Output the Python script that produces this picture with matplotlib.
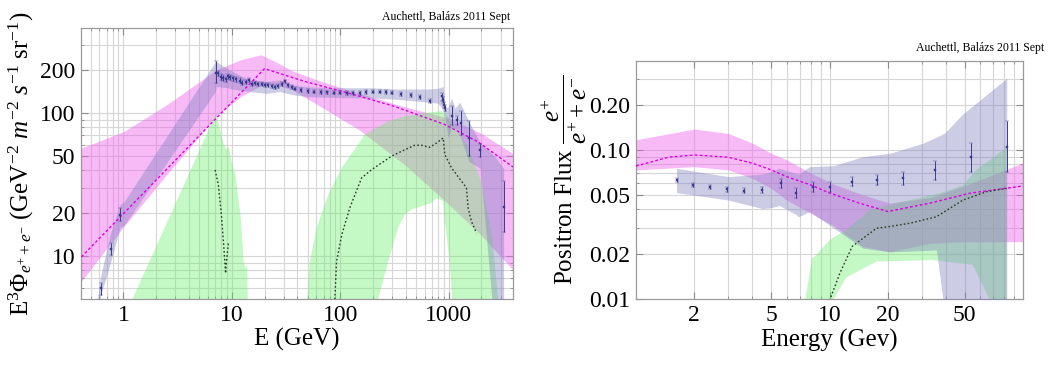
import numpy as np
import matplotlib
matplotlib.use("Agg")
import matplotlib.pyplot as plt
from matplotlib.ticker import FixedLocator, NullFormatter

plt.rcParams['font.family'] = ['Liberation Serif', 'DejaVu Serif']
plt.rcParams['mathtext.fontset'] = 'custom'
plt.rcParams['mathtext.rm'] = 'Liberation Serif'
plt.rcParams['mathtext.it'] = 'Liberation Serif:italic'
plt.rcParams['mathtext.bf'] = 'Liberation Serif:bold'

# ---------------- left panel : e+ + e- flux ----------------
pink_e = [0.41, 1.0, 2.5, 7.2, 12, 18.5, 25, 36, 67, 150, 400, 1000, 2000, 3900]
pink_hi = [57, 74, 114, 200, 235, 255, 229, 197, 166, 137, 110, 92, 72, 52]
pink_lo = [6.7, 16, 37, 95, 130, 155, 158, 145, 110, 76, 43, 23, 14, 8]

model_e = [0.41, 20, 47, 135, 318, 920, 1850, 3900]
model_f = [9.9, 204, 166, 134, 111, 83, 63, 42]

lav_e = [0.58, 0.62, 0.75, 0.93, 1.02, 7.08, 7.2, 9, 11, 14.8, 20.8, 27.6, 36.7,
         50, 100, 200, 318, 645, 797, 887, 905, 919, 986, 1059, 1140, 1262,
         1528, 1950, 2650, 3200]
lav_hi = [5.2, 7.4, 14, 22.9, 24.2, 229, 228, 205, 189, 170, 166, 170, 157,
          152, 150, 150, 147, 147, 149, 153, 125, 108, 110, 127, 108, 119,
          87.5, 62, 50, 41]
lav_lo = [4, 5.4, 8.7, 15.8, 16.5, 142, 153, 150, 145, 141, 137, 141, 134,
          130, 128, 127, 125, 119, 117, 105, 100, 95, 67, 80, 78, 70.6,
          46, 41, 3, 3]

g1_e = [0.88, 1.19, 7.08, 8.32, 8.95, 9.25, 9.93, 10.7, 11.9, 12.7, 13.2, 13.7, 14.0]
g1_hi = [3, 5, 100, 61, 55, 58.8, 44.6, 37, 19.5, 9.2, 8.3, 8.7, 3]

g2_out_e = [47, 52.4, 60.4, 77.3, 103, 168, 276, 393, 600, 850, 920, 1000, 1500, 2000, 2500, 3050]
g2_out_f = [3, 9.2, 15.8, 26.9, 41.4, 70.6, 87.5, 94.8, 100, 103, 100, 92, 58, 33, 14, 3]
g2_in_e = [215, 223, 276, 341, 393, 453, 692, 771, 887, 919, 1021, 1120]
g2_in_f = [3, 5, 9.2, 15.8, 19.5, 21.2, 23.5, 25.5, 24.2, 17.5, 9.2, 3]

dm1_e = [7.0, 7.5, 8.0, 8.4, 8.75, 8.95, 9.3]
dm1_f = [40, 31.6, 19.5, 12.0, 7.6, 9.5, 12.4]
dm2_e = [89, 92.2, 103, 122, 157, 194, 297, 393, 486, 560, 668, 771, 887,
         919, 1059, 1309, 1455, 1507, 1618, 1800]
dm2_f = [5, 9.2, 14.1, 21.7, 35.2, 40.2, 50, 55.4, 59.5, 59.5, 57.6, 61.8, 66.9,
         51.3, 41.4, 33.4, 30, 21.7, 17.5, 14.5]

data_e = [0.617, 0.767, 0.929, 7.08, 7.5, 7.9, 8.3, 8.75, 9.25, 9.7, 10.3, 11.0,
          11.9, 12.5, 13.4, 14.3, 15.4, 16.4, 17.5, 18.8, 20.1, 21.6, 23.2, 24.9,
          26.7, 28.7, 30.8, 33.0, 35.5, 38.1, 43.7, 50, 57.5, 66, 76, 87, 100,
          115, 132, 152, 174, 200, 230, 264, 300, 366, 446, 541, 668, 857, 875,
          894, 919, 1074, 1178, 1282, 1528, 1958, 3200]
data_f = [6.0, 11.3, 19.3, 190, 189, 179, 175, 172, 180, 177, 175, 172,
          168, 163, 165, 170, 159, 162, 160, 159, 158, 157, 155, 153,
          155, 160, 166, 158, 153, 148, 145, 143, 141, 140, 139.5, 139, 139,
          138, 138, 138, 140, 141, 141, 140, 139, 136, 134, 129, 122, 131, 124,
          114, 108, 96, 90, 85, 67, 55, 22]
data_lo = [5.4, 10.2, 17.5, 163, 181, 171, 167, 165, 172, 170, 168, 165,
           161, 157, 159, 164, 154, 157, 155, 154, 153, 152, 150, 148,
           150, 155, 161, 153, 148, 144, 141, 139, 137, 136, 136, 135, 135,
           134, 134, 134, 136, 137, 137, 136, 135, 132, 130, 125, 118, 121, 118,
           109, 103, 82, 83, 70.5, 50, 49, 14.8]
data_hi = [6.5, 12.3, 21.7, 229, 197, 187, 183, 179, 188, 184, 182, 179,
           175, 169, 171, 176, 164, 167, 165, 164, 163, 162, 160, 158,
           160, 165, 171, 163, 158, 152, 149, 147, 145, 144, 143, 143, 143,
           142, 142, 142, 144, 145, 145, 144, 143, 140, 138, 133, 126, 138, 130,
           119, 113, 111, 95, 103, 87.5, 61, 33.4]

# ---------------- right panel : positron fraction ----------------
rpink_e = [1.0, 2.0, 3.0, 4.0, 5.0, 6.0, 8.0, 10.5, 14.9, 20.5, 33, 49, 100]
rpink_hi = [0.117, 0.138, 0.129, 0.111, 0.095, 0.086, 0.070, 0.059, 0.050, 0.044, 0.048, 0.057, 0.082]
rpink_lo = [0.0735, 0.0773, 0.0735, 0.0646, 0.0553, 0.0462, 0.0377, 0.031, 0.0226, 0.0208, 0.0237, 0.0243, 0.0243]

rmodel_e = [1.0, 1.47, 2.0, 3.0, 4.0, 5.0, 6.0, 8.0, 10.0, 14.3, 20.0, 33, 53, 100]
rmodel_f = [0.078, 0.0894, 0.0926, 0.0894, 0.0815, 0.0735, 0.0663, 0.0583, 0.0515,
            0.044, 0.0387, 0.044, 0.0513, 0.0574]

rlav_e = [1.62, 3.0, 4.5, 5.0, 5.5, 6.7, 6.9, 7.9, 10.5, 14.9, 20.5, 30.4, 35.7, 39.4, 49, 65, 82.4]
rlav_hi = [0.0754, 0.0663, 0.069, 0.0715, 0.0754, 0.0698, 0.069, 0.0773, 0.0785, 0.0902,
           0.095, 0.111, 0.122, 0.130, 0.175, 0.235, 0.302]
rlav_lo = [0.0518, 0.0462, 0.0405, 0.041, 0.0425, 0.037, 0.0357, 0.0387, 0.030, 0.022,
           0.0208, 0.0212, 0.0214, 0.008, 0.008, 0.008, 0.008]

rg_up_e = [7.4, 8.13, 8.46, 10.0, 12.2, 16.1, 20.5, 37.2, 49, 57.5, 82.4]
rg_up_f = [0.009, 0.0188, 0.0195, 0.025, 0.0291, 0.0397, 0.043, 0.0513, 0.058, 0.0735, 0.104]
rg_lo_e = [7.4, 10.0, 12.2, 17.5, 34, 55, 70, 82.4]
rg_lo_f = [0.009, 0.009, 0.014, 0.0179, 0.0183, 0.017, 0.009, 0.009]

rdm_e = [10.0, 11.3, 13.1, 17.5, 20.4, 26, 35.7, 49, 65, 82.4]
rdm_f = [0.0098, 0.0149, 0.0226, 0.0299, 0.0307, 0.0323, 0.0357, 0.0462, 0.0526, 0.0553]

rdata_e = [1.62, 1.96, 2.41, 2.95, 3.63, 4.46, 5.62, 6.71, 8.2, 10.1, 13.1, 17.5, 24, 35, 53.6, 83]
rdata_f = [0.063, 0.0583, 0.0563, 0.0545, 0.0534, 0.054, 0.0598, 0.0518, 0.0568, 0.0568,
           0.0614, 0.063, 0.0646, 0.0735, 0.0902, 0.105]
rdata_lo = [0.061, 0.0565, 0.0545, 0.0525, 0.0512, 0.0515, 0.056, 0.0478, 0.0525, 0.0525,
            0.0573, 0.058, 0.0585, 0.063, 0.0716, 0.0716]
rdata_hi = [0.065, 0.060, 0.058, 0.0565, 0.0556, 0.0565, 0.0636, 0.0558, 0.061, 0.0612,
            0.0655, 0.068, 0.0715, 0.084, 0.112, 0.157]

PINK = '#ee66ee'
LAV = '#8080c0'
GREEN = '#66ee66'
MAG = '#e000e0'
DOT = '#2a3a2a'
PTS = '#3a3a90'
GRID = '#d6d6d6'


def style_axes(ax, xgrid, ygrid):
    for x in xgrid:
        ax.axvline(x, color=GRID, lw=0.8, zorder=0)
    for y in ygrid:
        ax.axhline(y, color=GRID, lw=0.8, zorder=0)
    for s in ax.spines.values():
        s.set_color('#9a9a9a')
        s.set_linewidth(0.9)
    ax.tick_params(which='both', direction='in', top=True, right=True,
                   labelsize=17, color='#8a8a8a', pad=4)
    ax.tick_params(which='major', length=5)
    ax.tick_params(which='minor', length=2.5)


def errbars(ax, e, f, lo, hi):
    f = np.array(f)
    yerr = [f - np.array(lo), np.array(hi) - f]
    ax.errorbar(e, f, yerr=yerr, fmt='s', ms=1.8, mew=0.3, color=PTS, ecolor=PTS,
                elinewidth=0.7, capsize=1.4, capthick=0.7, zorder=6)


fig = plt.figure(figsize=(10.5, 3.67), dpi=100)

# left
ax1 = fig.add_axes([0.0771, 0.1853, 0.4114, 0.7384])
ax1.set_xscale('log')
ax1.set_yscale('log')
ax1.fill_between(pink_e, pink_lo, pink_hi, color=PINK, alpha=0.45, lw=0, zorder=2)
ax1.fill_between(g1_e, 3, g1_hi, color=GREEN, alpha=0.38, lw=0, zorder=2)
ax1.fill(g2_out_e + g2_in_e[::-1], g2_out_f + g2_in_f[::-1], color=GREEN, alpha=0.38, lw=0, zorder=2)
ax1.fill_between(lav_e, lav_lo, lav_hi, color=LAV, alpha=0.4, lw=0, zorder=3)
ax1.plot(model_e, model_f, color=MAG, lw=1.0, ls=(0, (2, 1.6)), zorder=4)
ax1.plot(dm1_e, dm1_f, color=DOT, lw=1.0, ls=(0, (1.2, 1.6)), zorder=4)
ax1.plot(dm2_e, dm2_f, color=DOT, lw=1.0, ls=(0, (1.2, 1.6)), zorder=4)
errbars(ax1, data_e, data_f, data_lo, data_hi)
ax1.set_xlim(0.406, 3900)
ax1.set_ylim(5.03, 392)
x_grid1 = [m * 10.0 ** k for k in range(-1, 4) for m in range(1, 10)]
y_grid1 = [m * 10.0 ** k for k in range(0, 3) for m in range(1, 10)]
style_axes(ax1, [x for x in x_grid1 if 0.41 < x < 3900], [y for y in y_grid1 if 5.03 < y < 392])
ax1.xaxis.set_major_locator(FixedLocator([1, 10, 100, 1000]))
ax1.set_xticklabels(['1', '10', '100', '1000'])
ax1.yaxis.set_major_locator(FixedLocator([10, 20, 50, 100, 200]))
ax1.set_yticklabels(['10', '20', '50', '100', '200'])
ax1.xaxis.set_minor_formatter(NullFormatter())
ax1.yaxis.set_minor_formatter(NullFormatter())
ax1.set_xlabel('E (GeV)', fontsize=18, labelpad=2)
ax1.set_ylabel(r'$\mathrm{E}^{3}\Phi_{e^{+}+e^{-}}\ (\mathrm{GeV}^{-2}\ m^{-2}\ s^{-1}\ \mathrm{sr}^{-1})$',
               fontsize=18, labelpad=3)
fig.text(0.486, 0.945, 'Auchettl, Balázs 2011 Sept', ha='right', va='baseline', fontsize=8.5)

# right
ax2 = fig.add_axes([0.6057, 0.1845, 0.3686, 0.6501])
ax2.set_xscale('log')
ax2.set_yscale('log')
ax2.fill_between(rpink_e, rpink_lo, rpink_hi, color=PINK, alpha=0.45, lw=0, zorder=2)
ax2.fill(rg_up_e + rg_lo_e[::-1], rg_up_f + rg_lo_f[::-1], color=GREEN, alpha=0.38, lw=0, zorder=2)
ax2.fill_between(rlav_e, rlav_lo, rlav_hi, color=LAV, alpha=0.4, lw=0, zorder=3)
ax2.plot(rmodel_e, rmodel_f, color=MAG, lw=1.0, ls=(0, (2, 1.6)), zorder=4)
ax2.plot(rdm_e, rdm_f, color=DOT, lw=1.0, ls=(0, (1.2, 1.6)), zorder=4)
errbars(ax2, rdata_e, rdata_f, rdata_lo, rdata_hi)
ax2.set_xlim(1.0, 100)
ax2.set_ylim(0.01, 0.396)
x_grid2 = [m * 10.0 ** k for k in range(0, 2) for m in range(1, 10)]
y_grid2 = [m * 10.0 ** k for k in range(-2, 0) for m in range(1, 10)]
style_axes(ax2, [x for x in x_grid2 if 1.0 < x < 100], [y for y in y_grid2 if 0.01 < y < 0.396])
ax2.xaxis.set_major_locator(FixedLocator([2, 5, 10, 20, 50]))
ax2.set_xticklabels(['2', '5', '10', '20', '50'])
ax2.yaxis.set_major_locator(FixedLocator([0.01, 0.02, 0.05, 0.1, 0.2]))
ax2.set_yticklabels(['0.01', '0.02', '0.05', '0.10', '0.20'])
ax2.xaxis.set_minor_formatter(NullFormatter())
ax2.yaxis.set_minor_formatter(NullFormatter())
ax2.set_xlabel('Energy (Gev)', fontsize=18, labelpad=2)
ax2.set_ylabel(r'Positron Flux $\dfrac{e^{+}}{e^{+}+e^{-}}$', fontsize=18, labelpad=0)
fig.text(0.995, 0.86, 'Auchettl, Balázs 2011 Sept', ha='right', va='baseline', fontsize=8.5)

fig.savefig('out.png', dpi=100)
